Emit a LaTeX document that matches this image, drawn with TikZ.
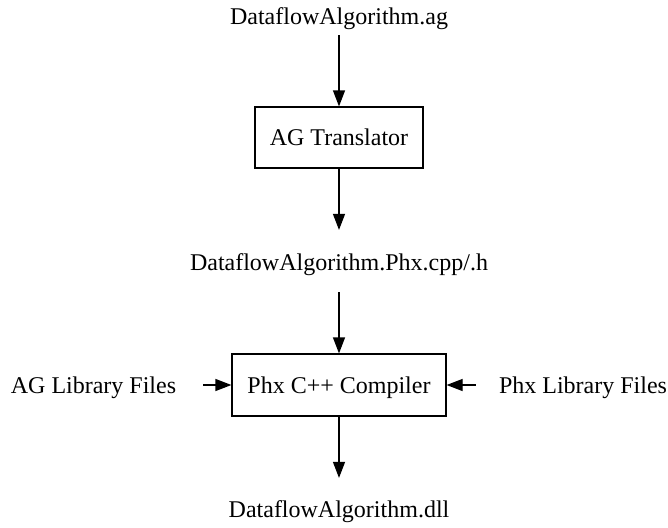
\documentclass[tikz,border=0pt]{standalone}
\usepackage{fontspec}
\setmainfont{Liberation Serif}
\usetikzlibrary{arrows.meta}
\tikzstyle{process} = 
	[
		rectangle, 
		minimum width=168pt, 
		minimum height=61pt, 
		text height=16pt,
		text depth=0pt,
		text centered,
		draw=black, 
		line width=1.2pt
	]
\tikzstyle{file} = 
	[
		inner sep=0pt, 
		anchor=base
	]
\tikzstyle{arrow} = [line width=1.2pt,-{Triangle[length=16pt,width=12pt]}]

\begin{document}
\begin{tikzpicture}[x=1pt,y=-1pt,font=\fontsize{24}{28}\selectfont]
	\useasboundingbox (0,0) rectangle (668,527);

	\node 
	(AgFile) 
	[file] 
	at (339,25)
	{DataflowAlgorithm.ag};
	
	\node
	(AgTranslator)
	[process]
	at (339,137.5)
	{
		AG Translator
	}
	;
	
	\node
	(PhxFile)
	[file]
	at (339,270)
	{
		DataflowAlgorithm.Phx.cpp/.h
	}
	;
	
	\node
	(PhxCompiler)
	[
		process,
		minimum width=214pt,
		minimum height=62pt
	]
	at (339,385)
	{
		Phx C++ Compiler
	};	

	\node
	(AgLibrary)
	[file]
	at (93.5,393)
	{
		AG Library Files
	};

	\node
	(PhxLibrary)
	[file]
	at (583,393)
	{
		Phx Library Files
	};

	\node
	(DllFile)
	[file]
	at (339,517)
	{
		DataflowAlgorithm.dll
	};
	
	\draw [arrow, shorten <=5pt] (AgFile) -- (AgTranslator);
	\draw [arrow, shorten >=23pt] (AgTranslator) -- (PhxFile);
	\draw [arrow, shorten <=17pt] (PhxFile) -- (PhxCompiler);
	\draw [arrow, shorten >=22pt] (PhxCompiler) -- (DllFile);
	\draw [arrow, shorten <=27pt] (AgLibrary.east |- PhxCompiler) -- (PhxCompiler.west);
	\draw [arrow, shorten <=23pt] (PhxLibrary.west |- PhxCompiler) -- (PhxCompiler.east);
	
\end{tikzpicture}
\end{document}
